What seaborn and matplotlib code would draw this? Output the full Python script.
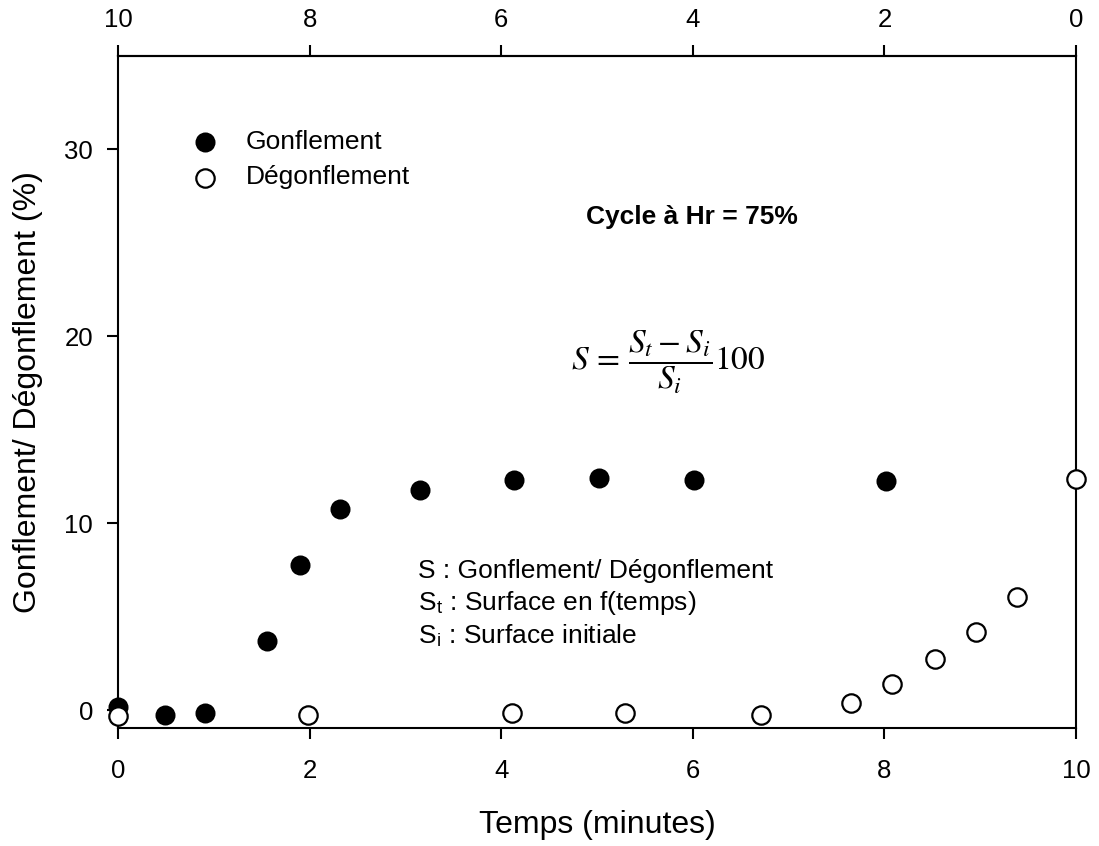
import matplotlib
matplotlib.use("Agg")
import matplotlib.pyplot as plt
import seaborn as sns
import pandas as pd

# Data
gonf_t = [0.0, 0.49, 0.91, 1.56, 1.90, 2.32, 3.15, 4.13, 5.02, 6.01, 8.02]
gonf_s = [0.15, -0.27, -0.14, 3.69, 7.75, 10.75, 11.8, 12.3, 12.4, 12.3, 12.25]
degonf_t = [0.0, 1.98, 4.11, 5.29, 6.71, 7.65, 8.08, 8.53, 8.96, 9.38, 10.0]
degonf_s = [-0.32, -0.27, -0.14, -0.18, -0.27, 0.36, 1.37, 2.75, 4.19, 6.06, 12.35]
x_ticks = [0, 2, 4, 6, 8, 10]
y_ticks = [0, 10, 20, 30]

sns.set_style("ticks")
plt.rcParams['font.family'] = ['Liberation Sans', 'DejaVu Sans']
plt.rcParams['mathtext.fontset'] = 'stix'
for k in ['text.color', 'axes.labelcolor', 'xtick.color', 'ytick.color', 'axes.edgecolor']:
    plt.rcParams[k] = 'black'

fig = plt.figure(figsize=(10.99, 8.46), dpi=100)
ax = fig.add_axes([118/1099, 118/846, (1076-118)/1099, (728-56)/846])

df_g = pd.DataFrame({"t": gonf_t, "s": gonf_s})
df_d = pd.DataFrame({"t": degonf_t, "s": degonf_s})

sns.scatterplot(data=df_g, x="t", y="s", ax=ax, s=175, color="black",
                edgecolor="black", linewidth=1.2, label="Gonflement", zorder=3,
                clip_on=False)
sns.scatterplot(data=df_d, x="t", y="s", ax=ax, s=175, facecolor="white",
                edgecolor="black", linewidth=1.6, label="Dégonflement", zorder=4,
                clip_on=False)

ax.set_xlim(0, 10)
ax.set_ylim(-0.96, 35)
ax.set_xticks(x_ticks)
ax.set_yticks(y_ticks)
ax.set_xticklabels([str(v) for v in x_ticks])
ax.set_yticklabels([str(v) for v in y_ticks])

for sp in ax.spines.values():
    sp.set_linewidth(1.5)
    sp.set_color("black")
    sp.set_visible(True)

ax.tick_params(axis="x", direction="out", length=8, width=1.5,
               labelsize=18.5, colors="black", pad=14)
ax.tick_params(axis="y", direction="out", length=8, width=1.5,
               labelsize=18.5, colors="black", pad=10)

top = ax.secondary_xaxis("top", functions=(lambda x: 10 - x, lambda x: 10 - x))
top.set_xticks(x_ticks)
top.set_xticklabels([str(v) for v in x_ticks])
top.tick_params(direction="out", length=8, width=1.5, labelsize=18.5, pad=9,
                colors="black")
top.spines["top"].set_linewidth(1.5)

ax.set_xlabel("Temps (minutes)", fontsize=23, labelpad=20)
ax.set_ylabel("Gonflement/ Dégonflement (%)", fontsize=23, labelpad=15)

leg = ax.legend(loc="upper left", bbox_to_anchor=(0.062, 0.905), frameon=False,
                fontsize=19, handletextpad=0.9, labelspacing=0.42,
                borderaxespad=0, handlelength=1.3)

ax.text(5.99, 26.4, "Cycle à Hr = 75%", fontsize=19, fontweight="bold",
        ha="center", va="center")
ax.text(5.74, 18.6, r"$S\,=\,\dfrac{S_t-S_i}{S_i}100$", fontsize=24,
        ha="center", va="center")
ax.text(3.13, 7.43, "S : Gonflement/ Dégonflement", fontsize=19, ha="left", va="center")
ax.text(3.13, 5.72, r"S$_\mathregular{t}$ : Surface en f(temps)", fontsize=19, ha="left", va="center")
ax.text(3.13, 3.96, r"S$_\mathregular{i}$ : Surface initiale", fontsize=19, ha="left", va="center")

fig.savefig("out.png", dpi=100)
